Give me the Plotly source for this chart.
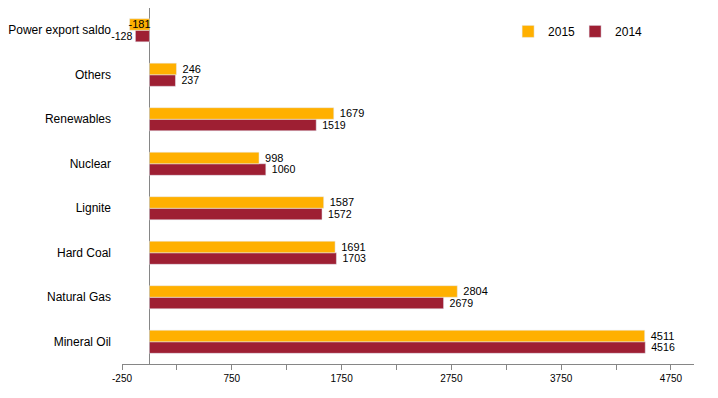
import plotly.graph_objects as go

categories = ["Mineral Oil", "Natural Gas", "Hard Coal", "Lignite", "Nuclear",
              "Renewables", "Others", "Power export saldo"]
values_2015 = [4511, 2804, 1691, 1587, 998, 1679, 246, -181]
values_2014 = [4516, 2679, 1703, 1572, 1060, 1519, 237, -128]
tick_values = [-250, 750, 1750, 2750, 3750, 4750]

c2015 = "#FFB000"
c2014 = "#9E1F33"
font = "Liberation Sans, Arial, sans-serif"


def labels(vals):
    return [(" " + str(v)) if v >= 0 else str(v) for v in vals]


fig = go.Figure()
fig.add_trace(go.Bar(
    y=categories, x=values_2014, orientation="h", name="2014",
    marker_color=c2014, text=labels(values_2014),
    textposition="outside", textfont=dict(size=11, color="#000000", family=font),
    cliponaxis=False,
))
fig.add_trace(go.Bar(
    y=categories, x=values_2015, orientation="h", name="2015",
    marker_color=c2015, text=labels(values_2015),
    textposition=["outside" if v >= 0 else "inside" for v in values_2015],
    insidetextanchor="middle", constraintext="none",
    textfont=dict(size=11, color="#000000", family=font),
    insidetextfont=dict(size=11, color="#000000", family=font),
    cliponaxis=False,
))

fig.update_layout(
    width=718, height=398,
    margin=dict(l=114, r=32, t=0, b=42, autoexpand=False),
    paper_bgcolor="white", plot_bgcolor="white",
    barmode="group", bargap=0.48, bargroupgap=0,
    font=dict(family=font, size=12, color="#000000"),
    showlegend=True,
    legend=dict(orientation="h", x=0.675, y=0.975, xanchor="left", yanchor="top",
                traceorder="reversed", font=dict(size=12, color="#000000"),
                bgcolor="rgba(0,0,0,0)", itemwidth=30,
                entrywidth=22, entrywidthmode="pixels"),
)
fig.update_xaxes(
    range=[-250, 4960], tickmode="array", tickvals=tick_values,
    ticktext=[str(v) for v in tick_values], automargin=False,
    showgrid=False, zeroline=True, zerolinecolor="#868686", zerolinewidth=1,
    showline=True, linecolor="#868686", linewidth=1,
    ticks="outside", ticklen=5, tickcolor="#868686",
    minor=dict(tickmode="linear", tick0=-250, dtick=500, ticks="outside",
               ticklen=5, tickcolor="#868686"),
    tickfont=dict(size=10, color="#000000", family=font),
)
fig.update_yaxes(
    showgrid=False, showline=False, ticks="", zeroline=False, automargin=False,
    ticklabelstandoff=10,
    tickfont=dict(size=12, color="#000000", family=font),
)

fig.write_html("out.html")
